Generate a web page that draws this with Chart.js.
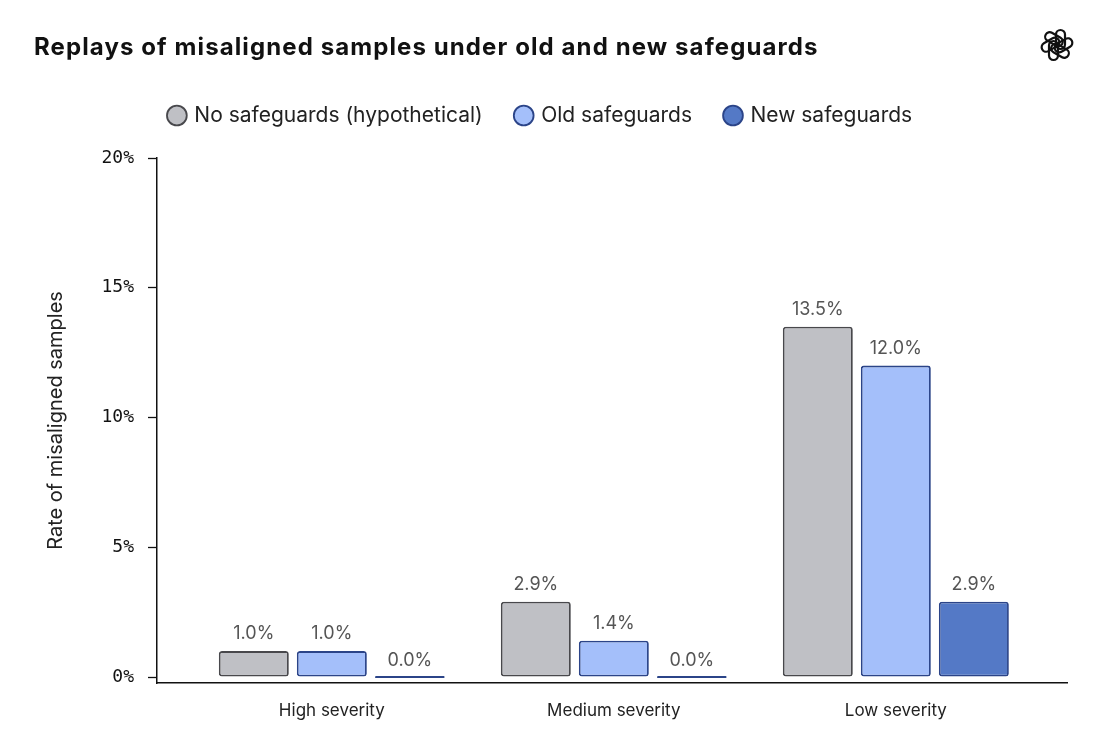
<!DOCTYPE html>
<html>
<head>
<meta charset="utf-8">
<script src="https://cdn.jsdelivr.net/npm/chart.js@4.4.1/dist/chart.umd.min.js"></script>
<style>
  html, body { margin: 0; padding: 0; background: #fff; }
  #wrap { position: relative; width: 1115px; height: 742px; }
  #title { position: absolute; left: 34px; top: 32px; margin: 0; font: 700 24px Inter, "Noto Sans", sans-serif; color: #111; letter-spacing: 1.1px; }
  #logo { position: absolute; left: 1039px; top: 27px; }
</style>
</head>
<body>
<div id="wrap">
  <canvas id="chart" width="1115" height="742"></canvas>
  <h1 id="title">Replays of misaligned samples under old and new safeguards</h1>
  <svg id="logo" width="36" height="36" viewBox="-18 -18 36 36">
    <g fill="none" stroke="#111" stroke-width="2.2">
      <rect x="-1" y="-15" width="9" height="19" rx="4.5" transform="rotate(0)"/>
      <rect x="-1" y="-15" width="9" height="19" rx="4.5" transform="rotate(60)"/>
      <rect x="-1" y="-15" width="9" height="19" rx="4.5" transform="rotate(120)"/>
      <rect x="-1" y="-15" width="9" height="19" rx="4.5" transform="rotate(180)"/>
      <rect x="-1" y="-15" width="9" height="19" rx="4.5" transform="rotate(240)"/>
      <rect x="-1" y="-15" width="9" height="19" rx="4.5" transform="rotate(300)"/>
    </g>
  </svg>
</div>
<script>
const categories = ['High severity', 'Medium severity', 'Low severity'];
const noSafeguards = [1.0, 2.9, 13.5];
const oldSafeguards = [1.0, 1.4, 12.0];
const newSafeguards = [0.0, 0.0, 2.9];
const yTicks = [0, 5, 10, 15, 20];

const toPoints = (vals) => vals.map((v, i) => ({ x: i, y: v }));

// value labels above each bar
const valueLabels = {
  id: 'valueLabels',
  afterDatasetsDraw(chart) {
    const ctx = chart.ctx;
    ctx.save();
    ctx.font = '18px Inter, "Noto Sans", sans-serif';
    ctx.fillStyle = '#555';
    ctx.textAlign = 'center';
    ctx.textBaseline = 'alphabetic';
    chart.data.datasets.forEach((ds, di) => {
      chart.getDatasetMeta(di).data.forEach((bar, i) => {
        ctx.fillText(ds.data[i].y.toFixed(1) + '%', bar.x, bar.y - 12);
      });
    });
    ctx.restore();
  }
};

// extra room under the legend
const legendSpace = {
  id: 'legendSpace',
  beforeInit(chart) {
    const fit = chart.legend.fit;
    chart.legend.fit = function () {
      fit.call(this);
      this.height += 22;
    };
  }
};

const ctx = document.querySelector('#chart').getContext('2d');

new Chart(ctx, {
  type: 'bar',
  data: {
    datasets: [{
      label: 'No safeguards (hypothetical)',
      data: toPoints(noSafeguards),
      backgroundColor: '#bfc0c5',
      borderColor: '#48484c'
    }, {
      label: 'Old safeguards',
      data: toPoints(oldSafeguards),
      backgroundColor: '#a4bffa',
      borderColor: '#2b4488'
    }, {
      label: 'New safeguards',
      data: toPoints(newSafeguards),
      backgroundColor: '#5479c6',
      borderColor: '#2b4488',
      minBarLength: 2
    }]
  },
  options: {
    responsive: false,
    animation: false,
    layout: { padding: { top: 71, right: 48, bottom: 0, left: 15 } },
    datasets: {
      bar: {
        categoryPercentage: 0.83,
        barPercentage: 0.897,
        borderWidth: 1.8,
        borderRadius: 3,
        borderSkipped: false
      }
    },
    plugins: {
      legend: {
        position: 'top',
        labels: {
          usePointStyle: true,
          pointStyle: 'circle',
          boxWidth: 14,
          boxHeight: 14,
          padding: 34,
          color: '#222',
          font: { size: 21, family: 'Inter, "Noto Sans", sans-serif' }
        }
      },
      tooltip: { enabled: false }
    },
    scales: {
      x: {
        type: 'linear',
        offset: false,
        min: -0.62,
        max: 2.607,
        grid: { display: false },
        border: { display: true, color: '#111', width: 1.5 },
        afterBuildTicks: (s) => { s.ticks = categories.map((c, i) => ({ value: i })); },
        afterFit: (s) => { s.height = 59; },
        ticks: {
          callback: (v) => categories[v],
          color: '#222',
          padding: 10,
          maxRotation: 0,
          font: { size: 17, family: 'Inter, "Noto Sans", sans-serif' }
        }
      },
      y: {
        min: -0.23,
        max: 20,
        grid: { drawOnChartArea: false, tickLength: 9, color: '#111', tickWidth: 1.3 },
        border: { display: true, color: '#111', width: 1.5 },
        afterBuildTicks: (s) => { s.ticks = yTicks.map((v) => ({ value: v })); },
        afterFit: (s) => { s.width = 142; },
        title: {
          display: true,
          text: 'Rate of misaligned samples',
          color: '#222',
          padding: { top: 29, bottom: 0 },
          font: { size: 20, family: 'Inter, "Noto Sans", sans-serif' }
        },
        ticks: {
          callback: (v) => v + '%',
          color: '#111',
          padding: 14,
          font: { size: 18, family: '"DejaVu Sans Mono", monospace' }
        }
      }
    }
  },
  plugins: [valueLabels, legendSpace]
});
</script>
</body>
</html>
